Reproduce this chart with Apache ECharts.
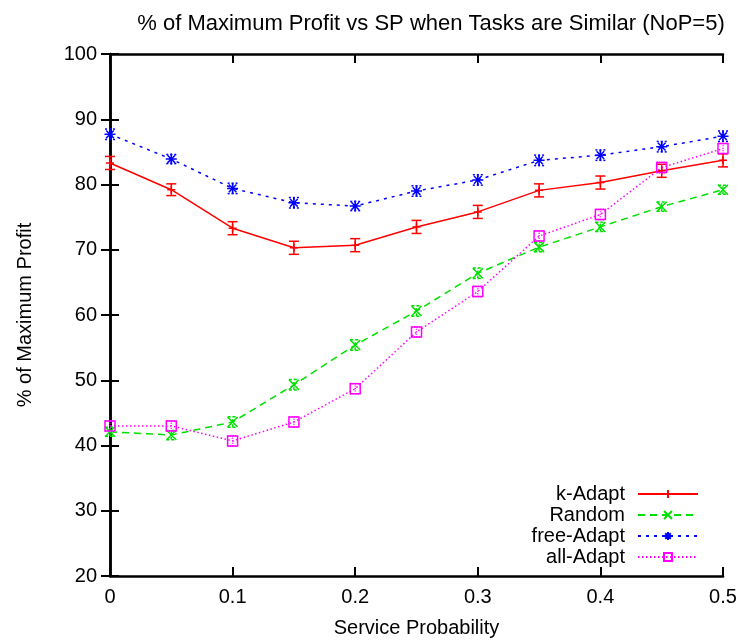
<!DOCTYPE html>
<html>
<head>
<meta charset="utf-8">
<script src="https://cdn.jsdelivr.net/npm/echarts@6/dist/echarts.min.js"></script>
<style>
  html, body { margin: 0; padding: 0; background: #fff; }
  #chart { width: 743px; height: 643px; }
</style>
</head>
<body>
<div id="chart"></div>
<script>
// Service probability steps (x axis)
const serviceProb = [0, 0.05, 0.1, 0.15, 0.2, 0.25, 0.3, 0.35, 0.4, 0.45, 0.5];

// % of maximum profit per strategy
const kAdapt    = [83.3, 79.2, 73.3, 70.3, 70.7, 73.5, 75.8, 79.1, 80.3, 82.1, 83.7];
const randomS   = [42.1, 41.6, 43.6, 49.3, 55.4, 60.6, 66.4, 70.4, 73.5, 76.6, 79.2];
const freeAdapt = [87.7, 83.9, 79.4, 77.2, 76.7, 79.0, 80.7, 83.7, 84.5, 85.8, 87.4];
const allAdapt  = [43.0, 43.0, 40.7, 43.6, 48.7, 57.4, 63.6, 72.1, 75.4, 82.6, 85.5];

// Half-width of the error bars
const kAdaptErr    = [1.0, 0.9, 1.0, 1.0, 1.0, 1.0, 1.0, 1.0, 1.0, 1.0, 1.0];
const randomErr    = [0.7, 0.7, 0.8, 0.8, 0.8, 0.8, 0.8, 0.7, 0.7, 0.7, 0.7];
const freeAdaptErr = [0.8, 0.7, 0.8, 0.8, 0.7, 0.8, 0.8, 0.8, 0.8, 0.8, 0.8];
const allAdaptErr  = [0.8, 0.8, 0.8, 0.8, 0.8, 0.8, 0.8, 0.8, 0.8, 0.8, 0.8];

const yTicks = [20, 30, 40, 50, 60, 70, 80, 90, 100];
const xTicks = [0, 0.1, 0.2, 0.3, 0.4, 0.5];

const FONT = 'Liberation Sans, Arial, sans-serif';

const SYM_X = 'path://M0,0L10,10M10,0L0,10';
const SYM_STAR = 'path://M5,0L5,10M0,5L10,5M1.5,1.5L8.5,8.5M8.5,1.5L1.5,8.5';
const SYM_PLUS = 'path://M5,0L5,10M0,5L10,5';

const defs = [
  { name: 'k-Adapt', data: kAdapt, err: kAdaptErr, color: '#ff0000', type: 'solid', symbol: SYM_PLUS, size: 8, errDash: null },
  { name: 'Random', data: randomS, err: randomErr, color: '#00e000', type: [7, 5], symbol: SYM_X, size: 10, errDash: [3, 2] },
  { name: 'free-Adapt', data: freeAdapt, err: freeAdaptErr, color: '#0000ff', type: [3, 5], symbol: SYM_STAR, size: 11, errDash: [2, 2] },
  { name: 'all-Adapt', data: allAdapt, err: allAdaptErr, color: '#ff00ff', type: [1.5, 2.5], symbol: 'rect', size: 10, errDash: [1, 1.5] }
];

const series = [];
defs.forEach(function (d) {
  series.push({
    name: d.name,
    type: 'line',
    data: serviceProb.map(function (x, i) { return [x, d.data[i]]; }),
    symbol: d.symbol,
    symbolSize: d.size,
    lineStyle: { color: d.color, width: 1.5, type: d.type },
    itemStyle: { color: 'rgba(0,0,0,0)', borderColor: d.color, borderWidth: 1.5 },
    z: 3,
    animation: false
  });
  series.push({
    name: d.name + ' err',
    type: 'custom',
    data: serviceProb.map(function (x, i) { return [x, d.data[i] - d.err[i], d.data[i] + d.err[i]]; }),
    renderItem: function (params, api) {
      const lo = api.coord([api.value(0), api.value(1)]);
      const hi = api.coord([api.value(0), api.value(2)]);
      const cap = 5;
      const style = { stroke: d.color, lineWidth: 1.5, fill: null };
      if (d.errDash) style.lineDash = d.errDash;
      return {
        type: 'group',
        children: [
          { type: 'line', shape: { x1: lo[0], y1: lo[1], x2: hi[0], y2: hi[1] }, style: style },
          { type: 'line', shape: { x1: lo[0] - cap, y1: lo[1], x2: lo[0] + cap, y2: lo[1] }, style: style },
          { type: 'line', shape: { x1: hi[0] - cap, y1: hi[1], x2: hi[0] + cap, y2: hi[1] }, style: style }
        ]
      };
    },
    encode: { x: 0, y: [1, 2] },
    z: 2,
    silent: true,
    animation: false
  });
});

const axisLine = { show: true, lineStyle: { color: '#000', width: 2.5 } };
const axisTick = { show: true, inside: true, length: 9, lineStyle: { color: '#000', width: 2 } };

const chart = echarts.init(document.getElementById('chart'), null, { renderer: 'canvas' });
chart.setOption({
  backgroundColor: '#fff',
  animation: false,
  title: {
    text: '% of Maximum Profit vs SP when Tasks are Similar (NoP=5)',
    left: 426,
    textAlign: 'center',
    top: 8,
    textStyle: { fontFamily: FONT, fontSize: 22, fontWeight: 'normal', color: '#000' }
  },
  legend: {
    data: defs.map(function (d) { return d.name; }),
    orient: 'vertical',
    align: 'right',
    right: 39,
    top: 479,
    itemWidth: 60,
    itemHeight: 10,
    itemGap: 1,
    textStyle: { fontFamily: FONT, fontSize: 20, lineHeight: 20, color: '#000', padding: [0, 8, 0, 0] },
    selectedMode: false
  },
  grid: { left: 110, right: 20, top: 54, bottom: 67 },
  xAxis: [
    {
      type: 'value', min: xTicks[0], max: xTicks[xTicks.length - 1], interval: 0.1,
      name: 'Service Probability', nameLocation: 'middle', nameGap: 42,
      nameTextStyle: { fontFamily: FONT, fontSize: 20, color: '#000' },
      axisLine: axisLine, axisTick: axisTick,
      axisLabel: { fontFamily: FONT, fontSize: 20, color: '#000', margin: 11,
        formatter: function (v) { return String(Math.round(v * 10) / 10); } },
      splitLine: { show: false }
    },
    {
      type: 'value', position: 'top', min: xTicks[0], max: xTicks[xTicks.length - 1], interval: 0.1,
      axisLine: axisLine, axisTick: axisTick, axisLabel: { show: false }, splitLine: { show: false }
    }
  ],
  yAxis: [
    {
      type: 'value', min: yTicks[0], max: yTicks[yTicks.length - 1], interval: 10,
      name: '% of Maximum Profit', nameLocation: 'middle', nameGap: 75, nameRotate: 90,
      nameTextStyle: { fontFamily: FONT, fontSize: 20, color: '#000' },
      axisLine: axisLine, axisTick: axisTick,
      axisLabel: { fontFamily: FONT, fontSize: 20, color: '#000', margin: 13 },
      splitLine: { show: false }
    },
    {
      type: 'value', position: 'right', min: yTicks[0], max: yTicks[yTicks.length - 1], interval: 10,
      axisLine: axisLine, axisTick: axisTick, axisLabel: { show: false }, splitLine: { show: false }
    }
  ],
  series: series
});
</script>
</body>
</html>
